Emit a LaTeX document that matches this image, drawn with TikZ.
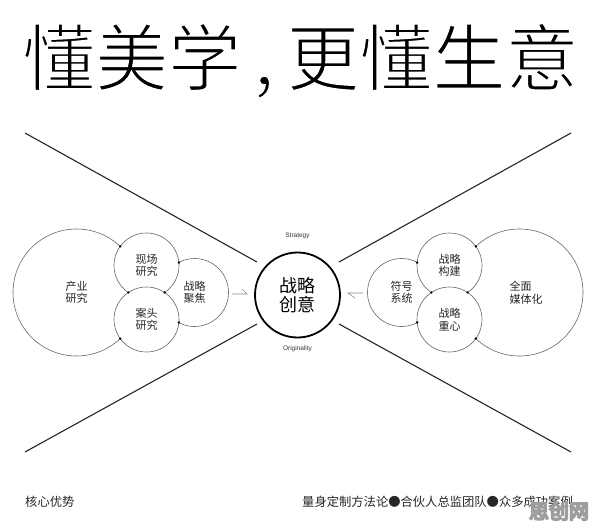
\documentclass[tikz,border=0pt]{standalone}
\usepackage{fontspec}
\setmainfont{Noto Sans CJK SC}
\newfontfamily\latinfont{Liberation Sans}
\newfontfamily\wmfont[FakeBold=9]{Noto Sans CJK SC}
\newfontfamily\titlefont[FakeBold=2.4]{Noto Sans CJK SC}
\begin{document}
\begin{tikzpicture}[x=1pt,y=-1pt,
  bub/.style={circle, draw=black!60, line width=0.6pt, fill=white, inner sep=0pt, align=center, text=black!85, font=\fontsize{11}{12.5}\selectfont},
  bubtext/.style={inner sep=0pt, text=black!85, font=\fontsize{11}{12.5}\selectfont},
  xline/.style={draw=black!85, line width=1.1pt},
  dotmark/.style={fill=black},
  harp/.style={draw=black!45, line width=0.6pt},
  smalllatin/.style={inner sep=0pt, text=black!80, font=\latinfont\fontsize{6.5}{7}\selectfont},
  foot/.style={inner sep=0pt, text=black!85, font=\fontsize{12.3}{12.3}\selectfont}]
\fill[white] (0,0) rectangle (596,529);
\useasboundingbox (0,0) rectangle (596,529);

% title
\node[anchor=base west, inner sep=0pt, font=\titlefont\fontsize{73}{73}\selectfont] (title) at (22,85) {\special{pdf:code 1 G}懂美学\hspace{12.5pt},\hspace{12.5pt}更懂生意};

% X lines
\coordinate (tl) at (25,133);  \coordinate (tlc) at (257,262);
\coordinate (tr) at (571,133); \coordinate (trc) at (339,262);
\coordinate (bl) at (25,452);  \coordinate (blc) at (257,324);
\coordinate (br) at (571,452); \coordinate (brc) at (339,324);
\draw[xline] (tl) -- (tlc);
\draw[xline] (tr) -- (trc);
\draw[xline] (bl) -- (blc);
\draw[xline] (br) -- (brc);

% left cluster
\node[bub, minimum size=127pt] (L) at (76.5,292.5) {产业\\研究};
\node[bub, minimum size=68pt] (C) at (194.5,292.5) {战略\\聚焦};
\node[bub, minimum size=65pt] (A) at (146.5,265.5) {现场\\研究};
\node[bub, minimum size=65pt] (B) at (146.5,319.5) {案头\\研究};

% right cluster
\node[bub, minimum size=127pt] (R) at (519.5,292.5) {};
\node[bubtext, align=left] (Rtext) at (526,293) {全面\\媒体化};
\node[bub, minimum size=68pt] (S) at (401.5,292.5) {符号\\系统};
\node[bub, minimum size=65pt] (D) at (449.5,265.5) {战略\\构建};
\node[bub, minimum size=65pt] (E) at (449.5,319.5) {战略\\重心};

% intersection dots
\foreach \px/\py in {120.2/246.4, 120.2/338.6, 128.4/292.5, 164.6/292.5, 178.9/262.6, 178.9/322.4,
                     475.8/246.4, 475.8/338.6, 467.6/292.5, 431.4/292.5, 417.1/262.6, 417.1/322.4}
  \fill[dotmark] (\px,\py) circle (1.3);

% centre
\node[circle, draw=black, line width=1.8pt, fill=white, minimum size=85pt, inner sep=0pt, align=center,
      font=\fontsize{18}{19}\selectfont] (core) at (297.5,295) {战略\\创意};
\node[smalllatin] (strat) at (297.5,236) {Strategy};
\node[smalllatin] (orig) at (297.5,348.5) {Originality};

% harpoon arrows
\coordinate (la1) at (232,294); \coordinate (la2) at (247,294);
\draw[harp] (la1) -- (la2) -- ++(-5,-5);
\coordinate (ra1) at (363,293); \coordinate (ra2) at (348,293);
\draw[harp] (ra1) -- (ra2) -- ++(7,5);

% footer
\node[foot, anchor=west] (adv1) at (25,502) {核心优势};
\node[foot, anchor=east] (adv2) at (573,502) {量身定制方法论●合伙人总监团队●众多成功案例};
\node[inner sep=0pt, text=black!38, font=\wmfont\fontsize{20}{20}\selectfont] (wm) at (559,511) {思创网};
\end{tikzpicture}
\end{document}
